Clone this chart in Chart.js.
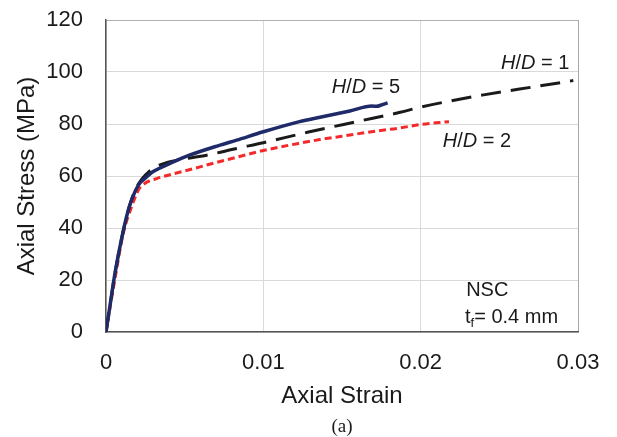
<!DOCTYPE html>
<html>
<head>
<meta charset="utf-8">
<script src="https://cdn.jsdelivr.net/npm/chart.js@4"></script>
<style>
  html, body { margin: 0; padding: 0; background: #fff; }
  #wrap { width: 617px; height: 437px; }
</style>
</head>
<body>
<div id="wrap"><canvas id="stressStrain"></canvas></div>
<script>
// H/D = 5 (solid navy)
const strainHD5 = [0, 0.0003, 0.00057, 0.0011, 0.00148, 0.00189, 0.00216, 0.00237, 0.0030, 0.0041, 0.0053, 0.00725, 0.0083, 0.0100, 0.0123, 0.0136, 0.0155, 0.0169, 0.0172, 0.0175, 0.0179];
const stressHD5 = [0, 12, 22.6, 39, 48.2, 54.6, 57.3, 58.5, 61.7, 64.9, 68, 71.9, 73.8, 77, 80.9, 82.6, 85.0, 86.9, 86.8, 87.3, 88.1];

// H/D = 1 (long dash black)
const strainHD1 = [0, 0.0003, 0.00057, 0.0011, 0.00148, 0.00189, 0.0023, 0.0027, 0.0032, 0.0043, 0.0064, 0.0083, 0.0100, 0.0128, 0.0160, 0.0187, 0.0200, 0.0240, 0.0272, 0.0297];
const stressHD1 = [0, 12, 22.6, 39, 48.2, 55, 59, 61.5, 63.6, 65.8, 68, 70.6, 72.8, 76.8, 81, 84.5, 86.5, 91.2, 94.3, 96.7];

// H/D = 2 (short dash red)
const strainHD2 = [0, 0.0003, 0.0006, 0.0011, 0.00163, 0.00206, 0.00248, 0.00322, 0.0053, 0.00725, 0.0083, 0.0100, 0.0123, 0.0136, 0.0150, 0.0172, 0.0185, 0.0200, 0.0218];
const stressHD2 = [0, 11, 21.5, 38, 48.2, 54.6, 57.2, 59, 62.4, 65.6, 67.2, 69.8, 72.6, 74, 75.3, 77.3, 78.3, 79.8, 80.9];

const xTicks = [0, 0.01, 0.02, 0.03];
const yTicks = [0, 20, 40, 60, 80, 100, 120];

function pts(xs, ys) {
  return xs.map((v, i) => ({x: v, y: ys[i]}));
}

const FONT = 'Liberation Sans, Arial, sans-serif';

// text labels inside the plot, anchored in data units (left edge, middle)
const notesPlugin = {
  id: 'notes',
  afterDraw(chart) {
    const {ctx, scales: {x, y}, chartArea} = chart;
    ctx.save();
    ctx.fillStyle = '#1a1a1a';
    ctx.textBaseline = 'middle';
    ctx.textAlign = 'left';

    function hd(val, sx, sy) {
      let px = x.getPixelForValue(sx);
      const py = y.getPixelForValue(sy);
      const parts = [['italic ', 'H'], ['', '/'], ['italic ', 'D'], ['', ' = ' + val]];
      parts.forEach(p => {
        ctx.font = p[0] + '20px ' + FONT;
        ctx.fillText(p[1], px, py);
        px += ctx.measureText(p[1]).width;
      });
    }
    hd('5', 0.01435, 94.2);
    hd('1', 0.02511, 103.2);
    hd('2', 0.0214, 73.3);

    ctx.font = '20px ' + FONT;
    ctx.fillText('NSC', x.getPixelForValue(0.02289), y.getPixelForValue(15.8));

    let px = x.getPixelForValue(0.02282);
    const py = y.getPixelForValue(5.4);
    ctx.fillText('t', px, py);
    px += ctx.measureText('t').width;
    ctx.font = '13px ' + FONT;
    ctx.fillText('f', px, py + 5);
    px += ctx.measureText('f').width;
    ctx.font = '20px ' + FONT;
    ctx.fillText('= 0.4 mm', px, py);

    ctx.font = '19px Liberation Serif, serif';
    ctx.textAlign = 'center';
    ctx.fillText('(a)', (chartArea.left + chartArea.right) / 2, 427);
    ctx.restore();
  }
};

new Chart(document.getElementById('stressStrain').getContext('2d'), {
  type: 'line',
  data: {
    datasets: [{
      label: 'H/D = 5',
      data: pts(strainHD5, stressHD5),
      borderColor: '#1f2a68',
      borderWidth: 3.5,
      pointRadius: 0,
      cubicInterpolationMode: 'monotone'
    }, {
      label: 'H/D = 1',
      data: pts(strainHD1, stressHD1),
      borderColor: '#1a1a1a',
      borderWidth: 3,
      borderDash: [20, 10],
      pointRadius: 0,
      cubicInterpolationMode: 'monotone'
    }, {
      label: 'H/D = 2',
      data: pts(strainHD2, stressHD2),
      borderColor: '#f42a2a',
      borderWidth: 3,
      borderDash: [7, 4],
      pointRadius: 0,
      cubicInterpolationMode: 'monotone'
    }]
  },
  options: {
    responsive: true,
    maintainAspectRatio: false,
    animation: false,
    layout: { padding: { left: 0, top: 20, right: 39, bottom: 0 } },
    plugins: {
      legend: { display: false },
      tooltip: { enabled: false }
    },
    scales: {
      x: {
        type: 'linear',
        min: 0,
        max: 0.03,
        afterFit: s => { s.height = 105; s.paddingLeft = 0; s.paddingRight = 0; },
        afterBuildTicks: s => { s.ticks = xTicks.map(v => ({value: v})); },
        ticks: {
          padding: 18,
          color: '#1a1a1a',
          font: { family: FONT, size: 22 },
          callback: v => String(v)
        },
        grid: {
          drawTicks: false,
          color: c => c.tick && c.tick.value === 0.03 ? '#a8a8a8' : '#d9d9d9',
          lineWidth: 1
        },
        border: { color: '#555', width: 1.5 },
        title: {
          display: true,
          text: 'Axial Strain',
          color: '#1a1a1a',
          font: { family: FONT, size: 24 },
          padding: { top: 0, bottom: 26 }
        }
      },
      y: {
        min: 0,
        max: 120,
        afterFit: s => { s.width = 106; s.paddingTop = 0; s.paddingBottom = 0; },
        afterBuildTicks: s => { s.ticks = yTicks.map(v => ({value: v})); },
        ticks: {
          padding: 23,
          color: '#1a1a1a',
          font: { family: FONT, size: 22 }
        },
        grid: {
          drawTicks: false,
          color: c => c.tick && c.tick.value === 120 ? '#b0b0b0' : '#d9d9d9',
          lineWidth: 1
        },
        border: { color: '#555', width: 1.5 },
        title: {
          display: true,
          text: 'Axial Stress (MPa)',
          color: '#1a1a1a',
          font: { family: FONT, size: 24 },
          padding: { top: 13, bottom: 0 }
        }
      }
    }
  },
  plugins: [notesPlugin]
});
</script>
</body>
</html>
